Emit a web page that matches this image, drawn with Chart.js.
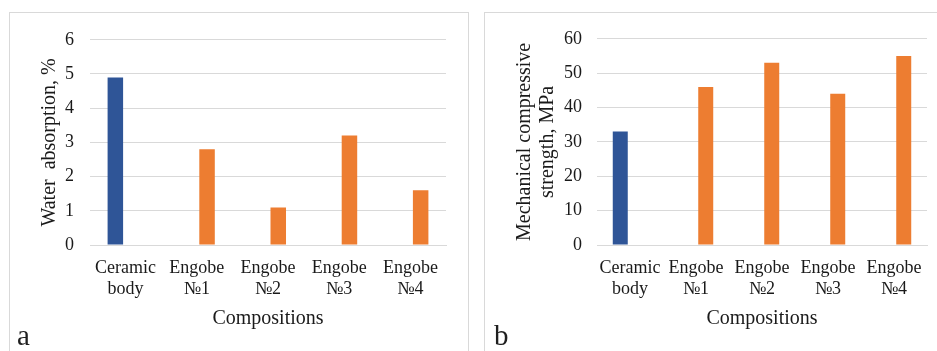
<!DOCTYPE html>
<html>
<head>
<meta charset="utf-8">
<script src="https://cdn.jsdelivr.net/npm/chart.js@4/dist/chart.umd.min.js"></script>
<style>
  html, body { margin: 0; padding: 0; background: #fff; }
  body { width: 937px; height: 351px; position: relative; overflow: hidden; }
  .panel { position: absolute; top: 12px; border: 1px solid #d9d9d9; border-bottom: none; height: 345px; }
  #panelA { left: 9px; width: 458px; }
  #panelB { left: 484px; width: 460px; border-right: none; }
  canvas { position: absolute; left: 0; top: 0; }
  .tag { position: absolute; font-family: "Liberation Serif", serif; font-size: 29px; line-height: 29px; color: #1f1f1f; }
</style>
</head>
<body>
<div class="panel" id="panelA"><canvas id="ctxA" width="457" height="338"></canvas></div>
<div class="panel" id="panelB"><canvas id="ctxB" width="452" height="338"></canvas></div>
<div class="tag" style="left:17px; top:321px;">a</div>
<div class="tag" style="left:494px; top:321px;">b</div>
<script>
'use strict';
const categories = [['Ceramic', 'body'], ['Engobe', '№1'], ['Engobe', '№2'], ['Engobe', '№3'], ['Engobe', '№4']];
// water absorption, %
const absorptionBody = [4.9, null, null, null, null];
const absorptionEngobe = [null, 2.8, 1.1, 3.2, 1.6];
// compressive strength, MPa
const strengthBody = [33, null, null, null, null];
const strengthEngobe = [null, 46, 53, 44, 55];

const BLUE = '#2f5597';
const ORANGE = '#ed7d31';
const TEXT = '#1a1a1a';
const GRID = '#d9d9d9';
const FONT = "'Liberation Serif', serif";

Chart.defaults.font.family = FONT;
Chart.defaults.color = TEXT;

const makeChart = (id, body, engobe, yTitle, yMax, step, opts) => {
  const ctx = document.getElementById(id);
  return new Chart(ctx, {
    type: 'bar',
    data: {
      labels: categories,
      datasets: [
        { data: body, backgroundColor: BLUE, categoryPercentage: opts.cat, barPercentage: opts.bar },
        { data: engobe, backgroundColor: ORANGE, categoryPercentage: opts.cat, barPercentage: opts.bar }
      ]
    },
    options: {
      responsive: false,
      animation: false,
      layout: { padding: { left: 0, top: 21, right: opts.right, bottom: 0 } },
      plugins: { legend: { display: false }, tooltip: { enabled: false } },
      scales: {
        x: {
          grid: { display: false, drawTicks: false },
          border: { display: true, color: GRID },
          ticks: { color: TEXT, padding: 12, font: { size: 18 }, maxRotation: 0, autoSkip: false },
          title: { display: true, text: 'Compositions', color: TEXT, padding: { top: 6, bottom: 20.5 },
                   font: { size: 20, lineHeight: 1.15 } },
          afterFit: (scale) => { scale.height = 106; }
        },
        y: {
          min: 0,
          max: yMax,
          grid: { color: GRID, drawTicks: false },
          border: { display: false },
          ticks: { stepSize: step, color: TEXT, padding: opts.tickPad, font: { size: 18 } },
          title: { display: true, text: yTitle, color: TEXT, padding: { top: 28, bottom: 0 },
                   font: { size: 20, lineHeight: 1.15 } },
          afterFit: (scale) => { scale.width = opts.yWidth; }
        }
      }
    }
  });
};

makeChart('ctxA', absorptionBody, absorptionEngobe, 'Water  absorption, %', 6, 1,
  { cat: 0.576, bar: 0.756, right: 21, yWidth: 80, tickPad: 16 });
makeChart('ctxB', strengthBody, strengthEngobe, ['Mechanical compressive', 'strength, MPa'], 60, 10,
  { cat: 0.59, bar: 0.77, right: 10, yWidth: 112, tickPad: 15 });
</script>
</body>
</html>
